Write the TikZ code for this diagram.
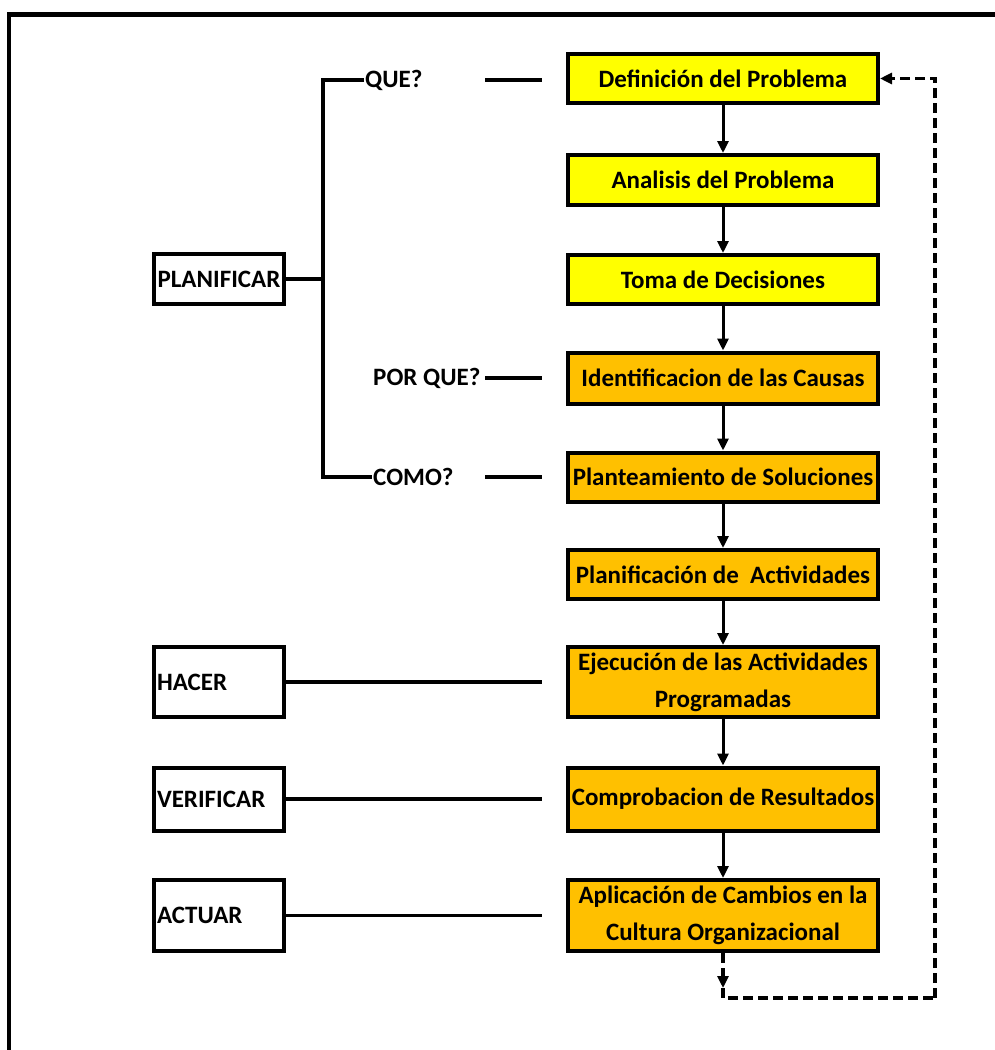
\documentclass[tikz,border=0pt]{standalone}
\usepackage{fontspec}
\setmainfont{Carlito}
\usetikzlibrary{arrows.meta, positioning, calc}
\definecolor{planyellow}{HTML}{FFFF00}
\definecolor{planorange}{HTML}{FFC000}
\tikzset{
  flowbox/.style={
    draw, line width=4pt, align=center, inner sep=2pt,
    minimum width=310pt, font=\fontsize{25}{37}\selectfont\bfseries
  },
  phasebox/.style={
    draw, line width=4pt, align=left, inner xsep=3pt,
    minimum width=130pt, text width=124pt,
    font=\fontsize{25}{37}\selectfont\bfseries
  },
  asklabel/.style={
    anchor=west, inner xsep=1pt, inner ysep=0pt,
    font=\fontsize{25}{37}\selectfont\bfseries
  },
  linkline/.style={line width=3.5pt},
  flowarrow/.style={-{Triangle[length=12pt, width=11pt]}, line width=3pt},
  loopline/.style={
    -{Triangle[length=12pt, width=11pt]}, line width=3.5pt,
    dash pattern=on 10pt off 5pt
  },
}

\begin{document}
\begin{tikzpicture}[x=1pt, y=-1pt]
  \useasboundingbox (0,0) rectangle (995,1050);

  % ── Outer frame (cut at right and bottom) ─────────────────────
  \draw[line width=4.5pt] (9,1060) -- (9,14.5) -- (1010,14.5);

  % ── Process steps ─────────────────────────────────────────────
  \node[flowbox, fill=planyellow, minimum height=49pt]
    (def) at (723,78.5) {Definición del Problema};
  \node[flowbox, fill=planyellow, minimum height=50pt]
    (ana) at (723,180) {Analisis del Problema};
  \node[flowbox, fill=planyellow, minimum height=49pt]
    (toma) at (723,279.5) {Toma de Decisiones};
  \node[flowbox, fill=planorange, minimum height=51pt]
    (ident) at (723,378) {Identificacion de las Causas};
  \node[flowbox, fill=planorange, minimum height=49pt]
    (plant) at (723,477) {Planteamiento de Soluciones};
  \node[flowbox, fill=planorange, minimum height=49pt]
    (plani) at (723,574.5) {Planificación de\ \ Actividades};
  \node[flowbox, fill=planorange, minimum height=70pt]
    (ejec) at (723,682) {Ejecución de las Actividades\\Programadas};
  \node[flowbox, fill=planorange, minimum height=63pt]
    (comp) at (723,799) {Comprobacion de Resultados};
  \node[flowbox, fill=planorange, minimum height=71pt]
    (aplic) at (723,915.5) {Aplicación de Cambios en la\\Cultura Organizacional};

  \draw[flowarrow] (def) -- (ana);
  \draw[flowarrow] (ana) -- (toma);
  \draw[flowarrow] (toma) -- (ident);
  \draw[flowarrow] (ident) -- (plant);
  \draw[flowarrow] (plant) -- (plani);
  \draw[flowarrow] (plani) -- (ejec);
  \draw[flowarrow] (ejec) -- (comp);
  \draw[flowarrow] (comp) -- (aplic);

  % Feedback loop
  \coordinate (loopdown) at (723,988);
  \coordinate (loopback) at (935,998);
  \draw[loopline] (aplic.south) -- (loopdown);
  \draw[loopline, -] (loopdown) |- (loopback);
  \draw[loopline] (loopback) |- (def.east);

  % ── PDCA phases ───────────────────────────────────────────────
  \node[phasebox, align=center, minimum height=50pt]
    (plan) at (219,279) {PLANIFICAR};
  \node[phasebox, minimum height=70pt] (hacer) at (219,682) {HACER};
  \node[phasebox, minimum height=63pt] (verif) at (219,799) {VERIFICAR};
  \node[phasebox, minimum height=71pt] (actuar) at (219,915.5) {ACTUAR};

  % Questions of the planning phase
  \node[asklabel] (que) at (364,80) {QUE?};
  \node[asklabel] (porque) at (372,378) {POR QUE?};
  \node[asklabel] (como) at (372,477) {COMO?};

  \coordinate (fork) at (323,279);
  \coordinate (gap) at (485,0);
  \draw[linkline] (plan.east) -- (fork);
  \draw[linkline] (que.west) -| (fork) |- (como.west);

  \draw[linkline, shorten >=24pt] (gap |- que) -- (def.west |- que);
  \draw[linkline, shorten >=24pt] (gap |- porque) -- (ident.west |- porque);
  \draw[linkline, shorten >=24pt] (gap |- como) -- (plant.west |- como);

  \draw[linkline, shorten >=24pt] (hacer.east) -- (ejec.west);
  \draw[linkline, shorten >=24pt] (verif.east) -- (comp.west);
  \draw[linkline, shorten >=24pt] (actuar.east) -- (aplic.west);
\end{tikzpicture}
\end{document}
